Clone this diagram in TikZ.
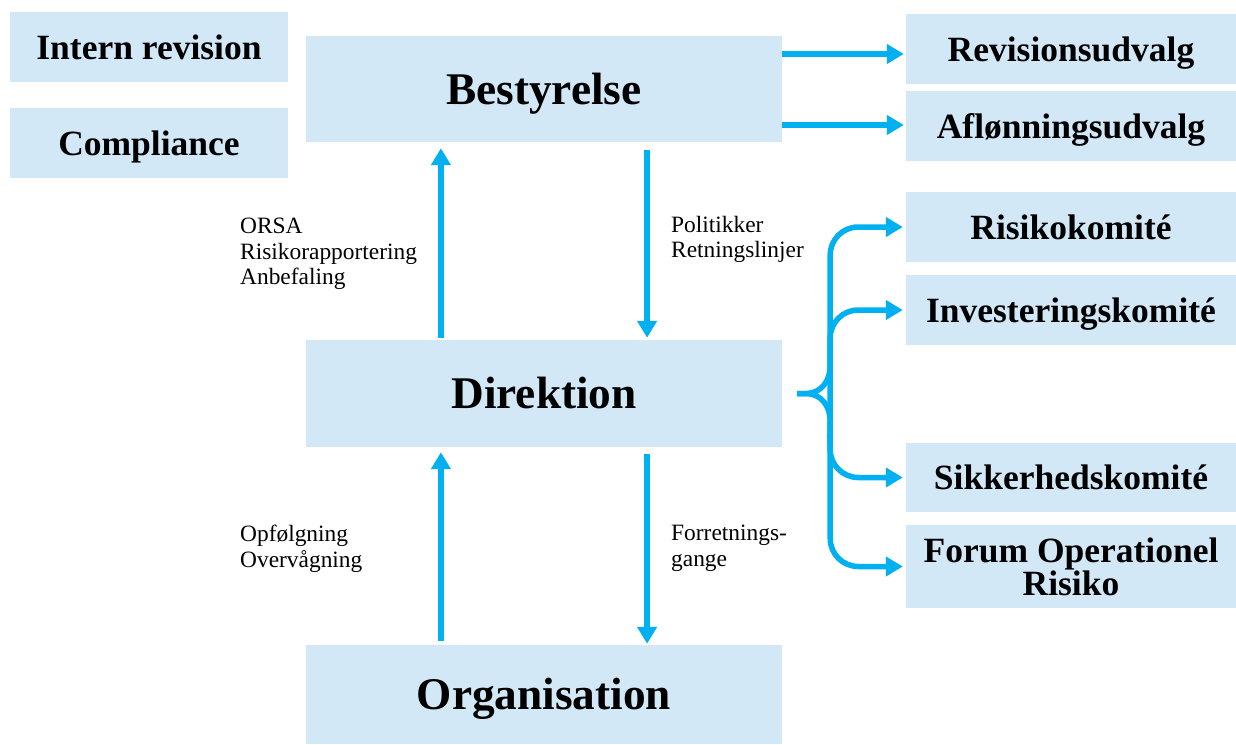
\documentclass[tikz,border=0pt]{standalone}
\usepackage{fontspec}
\setmainfont{Liberation Serif}
\usetikzlibrary{arrows.meta,calc}
\definecolor{boxfill}{HTML}{D2E8F7}
\definecolor{arrcol}{HTML}{00B0F0}
\begin{document}
\begin{tikzpicture}[x=1pt,y=-1pt,
  box/.style={fill=boxfill,draw=none,inner sep=0pt,align=center,text=black},
  onels/.style={text height=24.1pt,text depth=0pt},
  onelb/.style={text height=30.8pt,text depth=0pt},
  smallbox/.style={box,minimum width=330pt,minimum height=70pt,font=\bfseries\fontsize{35.5}{33}\selectfont},
  leftbox/.style={box,onels,minimum width=278pt,minimum height=70pt,font=\bfseries\fontsize{35.5}{33}\selectfont},
  bigbox/.style={box,onelb,minimum width=476pt,font=\bfseries\fontsize{45.3}{48}\selectfont},
  lbl/.style={anchor=north west,inner sep=0pt,align=left,font=\fontsize{23.4}{25.5}\selectfont},
  arr/.style={draw=arrcol,line width=5.5pt,-{Triangle[width=19pt,length=17pt]}},
  brc/.style={draw=arrcol,line width=5.5pt,line join=round}
]
\useasboundingbox (0,0) rectangle (1236,744);
% left boxes
\node[leftbox] (intern) at (149,47) {Intern revision};
\node[leftbox] (compl) at (149,143) {Compliance};
% central boxes
\node[bigbox,minimum height=106pt] (best) at (544,89) {Bestyrelse};
\node[bigbox,minimum height=107pt] (dir) at (544,393.5) {Direktion};
\node[bigbox,minimum height=99pt] (org) at (544,694.5) {Organisation};
% right boxes
\node[smallbox,onels] (rev) at (1071,49) {Revisionsudvalg};
\node[smallbox,onels] (afl) at (1071,126) {Aflønningsudvalg};
\node[smallbox,onels] (risk) at (1071,227) {Risikokomité};
\node[smallbox,onels] (inv) at (1071,310) {Investeringskomité};
\node[smallbox,onels,minimum height=69pt] (sik) at (1071,477.5) {Sikkerhedskomité};
\node[smallbox,minimum height=83pt] (forum) at (1071,566.5) {Forum Operationel\\Risiko};
% labels
\node[lbl] (l1) at (240,218) {ORSA\\Risikorapportering\\Anbefaling};
\node[lbl] (l2) at (671,216) {Politikker\\Retningslinjer};
\node[lbl] (l3) at (240,525) {Opfølgning\\Overvågning};
\node[lbl] (l4) at (671,525) {Forretnings-\\gange};
% vertical arrows
\coordinate (dnwA) at ($(dir.north west)!0.2836!(dir.north east)$);
\coordinate (dnwB) at ($(dir.north west)!0.7164!(dir.north east)$);
\coordinate (bswA) at ($(best.south west)!0.2836!(best.south east)$);
\coordinate (bswB) at ($(best.south west)!0.7164!(best.south east)$);
\coordinate (dswA) at ($(dir.south west)!0.2836!(dir.south east)$);
\coordinate (dswB) at ($(dir.south west)!0.7164!(dir.south east)$);
\coordinate (onwA) at ($(org.north west)!0.2836!(org.north east)$);
\coordinate (onwB) at ($(org.north west)!0.7164!(org.north east)$);
\draw[arr,shorten <=2pt,shorten >=6pt] (dnwA) -- (bswA);
\draw[arr,shorten <=8pt,shorten >=2pt] (bswB) -- (dnwB);
\draw[arr,shorten <=4pt,shorten >=5pt] (onwA) -- (dswA);
\draw[arr,shorten <=7pt,shorten >=1pt] (dswB) -- (onwB);
% horizontal arrows
\draw[arr,shorten >=2pt] ([yshift=-5pt]rev.west -| best.east) -- ([yshift=-5pt]rev.west);
\draw[arr,shorten >=2pt] ([yshift=1pt]afl.west -| best.east) -- ([yshift=1pt]afl.west);
% brace
\coordinate (bt) at ([xshift=15pt]dir.east);
\coordinate (vx) at ([xshift=48pt]dir.east);
\draw[brc,-{Triangle[width=19pt,length=17pt]},shorten >=3pt]
  (bt) -- ++(10,0) .. controls +(14,-1) and +(0,16) .. ++(23,-28) [rounded corners=28pt] |- (risk.west);
\draw[brc,rounded corners=28pt,-{Triangle[width=19pt,length=17pt]},shorten >=3pt]
  ([yshift=-50pt]vx) |- (inv.west);
\draw[brc,-{Triangle[width=19pt,length=17pt]},shorten >=3pt]
  (bt) -- ++(10,0) .. controls +(14,1) and +(0,-16) .. ++(23,28) [rounded corners=28pt] |- (forum.west);
\draw[brc,rounded corners=28pt,-{Triangle[width=19pt,length=17pt]},shorten >=3pt]
  ([yshift=-40pt]vx) |- (sik.west);
\end{tikzpicture}
\end{document}
